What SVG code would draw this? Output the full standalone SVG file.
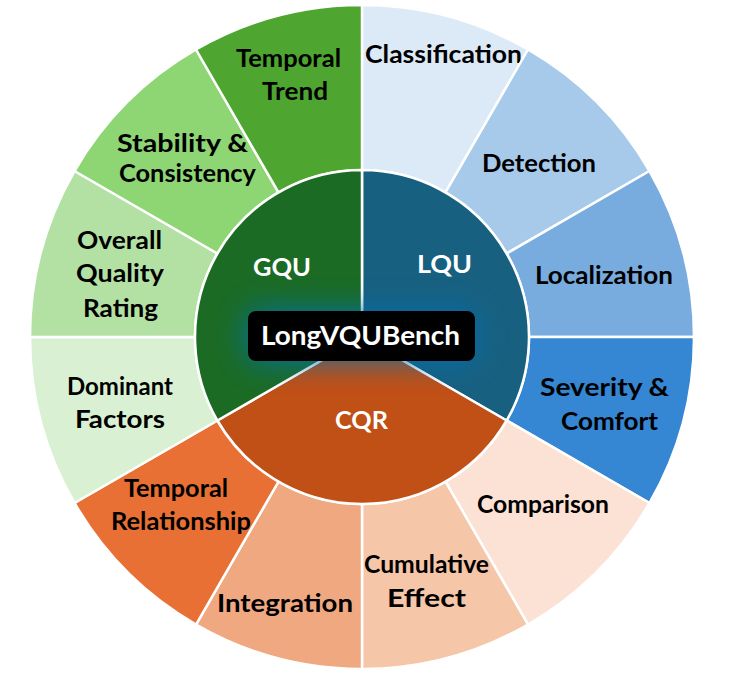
<svg xmlns="http://www.w3.org/2000/svg" width="733" height="673" viewBox="0 0 733 673">
<defs>
<style>
.seg{stroke:#ffffff;stroke-width:2.5;stroke-linejoin:round}
.lbl{font-family:Lato,"Open Sans","DejaVu Sans",sans-serif;font-weight:700;font-size:24px;fill:#000000;text-anchor:middle}
.in{font-family:Lato,"Open Sans","DejaVu Sans",sans-serif;font-weight:700;font-size:24px;fill:#ffffff;text-anchor:middle}
.title{font-family:Lato,"Open Sans","DejaVu Sans",sans-serif;font-weight:700;font-size:27px;fill:#ffffff;text-anchor:middle}
</style>
<filter id="glow" x="-60%" y="-150%" width="220%" height="400%">
<feGaussianBlur stdDeviation="15"/>
</filter>
</defs>
<rect width="733" height="673" fill="#ffffff"/>
<g id="outer-ring">
<g id="classification"><path class="seg" fill="#dce9f6" d="M362,5 A332,332 0 0 1 528,49.5 L445.5,192.4 A167,167 0 0 0 362,170 Z"/><text class="lbl" x="443.5" y="63" textLength="157" lengthAdjust="spacingAndGlyphs">Classification</text></g>
<g id="detection"><path class="seg" fill="#a7c9ea" d="M528,49.5 A332,332 0 0 1 649.5,171 L506.6,253.5 A167,167 0 0 0 445.5,192.4 Z"/><text class="lbl" x="539" y="172" textLength="114" lengthAdjust="spacingAndGlyphs">Detection</text></g>
<g id="localization"><path class="seg" fill="#78acdf" d="M649.5,171 A332,332 0 0 1 694,337 L529,337 A167,167 0 0 0 506.6,253.5 Z"/><text class="lbl" x="604" y="284" textLength="138" lengthAdjust="spacingAndGlyphs">Localization</text></g>
<g id="severity-comfort"><path class="seg" fill="#3586d3" d="M694,337 A332,332 0 0 1 649.5,503 L506.6,420.5 A167,167 0 0 0 529,337 Z"/><text class="lbl" x="604.5" y="396" textLength="129" lengthAdjust="spacingAndGlyphs">Severity &amp;</text><text class="lbl" x="609.5" y="430" textLength="97" lengthAdjust="spacingAndGlyphs">Comfort</text></g>
<g id="comparison"><path class="seg" fill="#fbe2d4" d="M649.5,503 A332,332 0 0 1 528,624.5 L445.5,481.6 A167,167 0 0 0 506.6,420.5 Z"/><text class="lbl" x="543" y="513" textLength="132" lengthAdjust="spacingAndGlyphs">Comparison</text></g>
<g id="cumulative-effect"><path class="seg" fill="#f5c6a8" d="M528,624.5 A332,332 0 0 1 362,669 L362,504 A167,167 0 0 0 445.5,481.6 Z"/><text class="lbl" x="426.5" y="573" textLength="125" lengthAdjust="spacingAndGlyphs">Cumulative</text><text class="lbl" x="426.5" y="607" textLength="79" lengthAdjust="spacingAndGlyphs">Effect</text></g>
<g id="integration"><path class="seg" fill="#f0a881" d="M362,669 A332,332 0 0 1 196,624.5 L278.5,481.6 A167,167 0 0 0 362,504 Z"/><text class="lbl" x="285" y="612" textLength="136" lengthAdjust="spacingAndGlyphs">Integration</text></g>
<g id="temporal-relationship"><path class="seg" fill="#e87034" d="M196,624.5 A332,332 0 0 1 74.5,503 L217.4,420.5 A167,167 0 0 0 278.5,481.6 Z"/><text class="lbl" x="176" y="497" textLength="104" lengthAdjust="spacingAndGlyphs">Temporal</text><text class="lbl" x="181" y="530" textLength="140" lengthAdjust="spacingAndGlyphs">Relationship</text></g>
<g id="dominant-factors"><path class="seg" fill="#d9f1d2" d="M74.5,503 A332,332 0 0 1 30,337 L195,337 A167,167 0 0 0 217.4,420.5 Z"/><text class="lbl" x="120" y="395" textLength="106" lengthAdjust="spacingAndGlyphs">Dominant</text><text class="lbl" x="120" y="428" textLength="90" lengthAdjust="spacingAndGlyphs">Factors</text></g>
<g id="overall-quality-rating"><path class="seg" fill="#b3e1a4" d="M30,337 A332,332 0 0 1 74.5,171 L217.4,253.5 A167,167 0 0 0 195,337 Z"/><text class="lbl" x="119.5" y="249" textLength="85" lengthAdjust="spacingAndGlyphs">Overall</text><text class="lbl" x="120" y="282" textLength="88" lengthAdjust="spacingAndGlyphs">Quality</text><text class="lbl" x="120.5" y="317" textLength="75" lengthAdjust="spacingAndGlyphs">Rating</text></g>
<g id="stability-consistency"><path class="seg" fill="#8ed574" d="M74.5,171 A332,332 0 0 1 196,49.5 L278.5,192.4 A167,167 0 0 0 217.4,253.5 Z"/><text class="lbl" x="182.5" y="152" textLength="131" lengthAdjust="spacingAndGlyphs">Stability &amp;</text><text class="lbl" x="187.5" y="182" textLength="137" lengthAdjust="spacingAndGlyphs">Consistency</text></g>
<g id="temporal-trend"><path class="seg" fill="#4ea52f" d="M196,49.5 A332,332 0 0 1 362,5 L362,170 A167,167 0 0 0 278.5,192.4 Z"/><text class="lbl" x="288.5" y="67" textLength="105" lengthAdjust="spacingAndGlyphs">Temporal</text><text class="lbl" x="295" y="100" textLength="66" lengthAdjust="spacingAndGlyphs">Trend</text></g>
</g>
<g id="inner-ring">
<g id="lqu"><path class="seg" fill="#186080" d="M362,337 L362,170 A167,167 0 0 1 506.6,420.5 Z"/></g>
<g id="cqr"><path class="seg" fill="#c05016" d="M362,337 L506.6,420.5 A167,167 0 0 1 217.4,420.5 Z"/></g>
<g id="gqu"><path class="seg" fill="#1b6b25" d="M362,337 L217.4,420.5 A167,167 0 0 1 362,170 Z"/></g>
</g>
<rect x="248" y="311" width="227" height="50" rx="8" fill="#0b6fb0" opacity="0.9" filter="url(#glow)"/>
<g id="inner-labels">
<text class="in" x="282" y="276" textLength="58" lengthAdjust="spacingAndGlyphs">GQU</text>
<text class="in" x="444.5" y="273" textLength="55" lengthAdjust="spacingAndGlyphs">LQU</text>
<text class="in" x="361.5" y="429" textLength="53" lengthAdjust="spacingAndGlyphs">CQR</text>
</g>
<g id="center">
<rect x="248" y="311" width="227" height="50" rx="8" fill="#000000"/>
<text class="title" x="360.5" y="345" textLength="199" lengthAdjust="spacingAndGlyphs">LongVQUBench</text>
</g>
</svg>
